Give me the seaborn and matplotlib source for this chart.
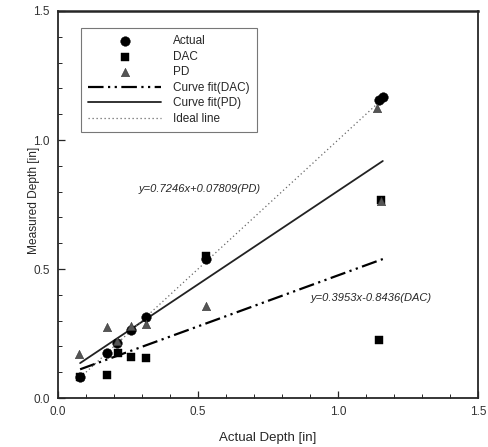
import matplotlib
matplotlib.use('Agg')
import matplotlib.pyplot as plt
import numpy as np
import pandas as pd
import seaborn as sns
from matplotlib.ticker import MultipleLocator, FormatStrFormatter

sns.set_style('ticks')
plt.rcParams['font.family'] = ['Liberation Sans', 'DejaVu Sans']

# 数据
actual_x = [0.079, 0.174, 0.212, 0.260, 0.314, 0.529, 1.146, 1.160]
actual_y = [0.080, 0.176, 0.214, 0.264, 0.315, 0.537, 1.155, 1.167]

dac_x = [0.079, 0.174, 0.214, 0.260, 0.314, 0.529, 1.147, 1.155]
dac_y = [0.082, 0.090, 0.173, 0.160, 0.155, 0.550, 0.225, 0.767]

pd_x = [0.076, 0.174, 0.212, 0.260, 0.314, 0.529, 1.140, 1.155]
pd_y = [0.170, 0.276, 0.220, 0.279, 0.287, 0.357, 1.124, 0.765]

# 拟合线系数 (slope, intercept)
dac_fit = (0.3953, 0.080)
pd_fit = (0.7246, 0.07809)
fit_range = [0.079, 1.160]

pd_label = 'y=0.7246x+0.07809(PD)'
dac_label = 'y=0.3953x-0.8436(DAC)'

fig = plt.figure(figsize=(4.89, 4.47), dpi=100)
ax = fig.add_axes([0.1186, 0.1096, 0.8589, 0.8658])

xs = np.array(fit_range)
line_df = pd.DataFrame({
    'x': xs,
    'dac': dac_fit[0] * xs + dac_fit[1],
    'pd': pd_fit[0] * xs + pd_fit[1],
    'ideal': xs,
})

sns.scatterplot(x=actual_x, y=actual_y, marker='o', s=48, color='black',
                edgecolor='black', linewidth=0.3, label='Actual', ax=ax, zorder=4)
sns.scatterplot(x=dac_x, y=dac_y, marker='s', s=38, color='black',
                edgecolor='black', linewidth=0.3, label='DAC', ax=ax, zorder=3)
sns.scatterplot(x=pd_x, y=pd_y, marker='^', s=36, color='#555555',
                edgecolor='#333333', linewidth=0.4, label='PD', ax=ax, zorder=5)

ax.plot(line_df['x'], line_df['dac'], color='black', lw=1.6,
        dashes=(7, 2, 1, 2, 1, 2), label='Curve fit(DAC)', zorder=2)
ax.plot(line_df['x'], line_df['pd'], color='#222222', lw=1.3,
        label='Curve fit(PD)', zorder=2)
ax.plot(line_df['x'], line_df['ideal'], color='#666666', lw=0.9,
        dashes=(1, 2.2), label='Ideal line', zorder=2)

ax.text(0.507, 0.81, pd_label, fontsize=8, style='italic', ha='center', va='center')
ax.text(1.118, 0.388, dac_label, fontsize=8, style='italic', ha='center', va='center')

ax.set_xlim(0, 1.5)
ax.set_ylim(0, 1.5)
ax.xaxis.set_major_locator(MultipleLocator(0.5))
ax.yaxis.set_major_locator(MultipleLocator(0.5))
ax.xaxis.set_minor_locator(MultipleLocator(0.1))
ax.yaxis.set_minor_locator(MultipleLocator(0.1))
ax.xaxis.set_major_formatter(FormatStrFormatter('%.1f'))
ax.yaxis.set_major_formatter(FormatStrFormatter('%.1f'))
ax.tick_params(which='major', direction='in', length=5, width=0.9, labelsize=8.5,
               labelcolor='#333333', pad=6)
ax.tick_params(which='minor', direction='in', length=3, width=0.7)

for side in ['left', 'bottom', 'right']:
    ax.spines[side].set_linewidth(1.3)
ax.spines['top'].set_linewidth(1.8)

ax.set_xlabel('Actual Depth [in]', fontsize=9.5, labelpad=10)
ax.set_ylabel('Measured Depth [in]', fontsize=8.6)
ax.yaxis.set_label_coords(-0.043, 0.51)

leg = ax.legend(loc='upper left', bbox_to_anchor=(0.055, 0.956), fontsize=8.5,
                handlelength=6.2, handletextpad=1.0, labelspacing=0.3,
                borderpad=0.6, frameon=True, fancybox=False, edgecolor='#555555',
                scatterpoints=1, borderaxespad=0)
leg.get_frame().set_linewidth(0.8)

plt.savefig('out.png', dpi=100)
